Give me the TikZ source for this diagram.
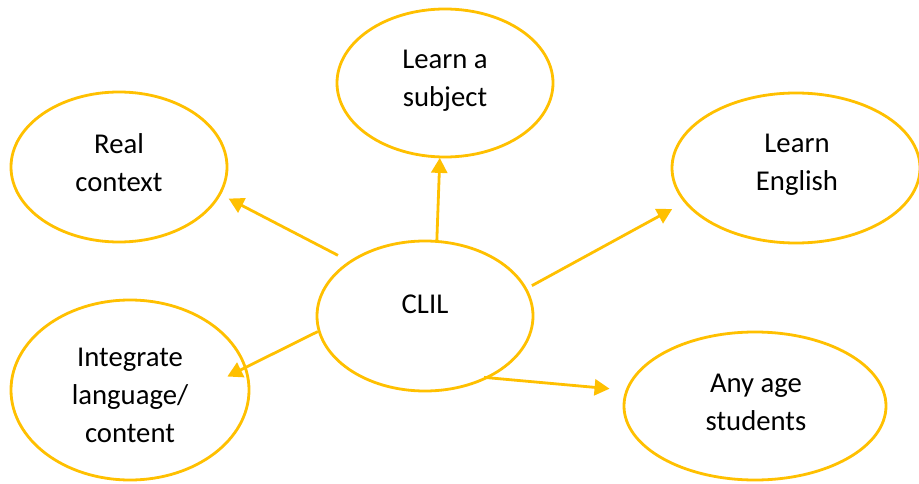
\documentclass[tikz,border=0pt]{standalone}
\usepackage{fontspec}
\setmainfont{Carlito}
\usetikzlibrary{shapes.geometric,arrows.meta}
\definecolor{gold}{HTML}{FFC000}
\begin{document}
\begin{tikzpicture}[x=1pt,y=-1pt,
  bubble/.style={ellipse,draw=gold,line width=2.8pt,inner sep=0pt,outer sep=0pt},
  bubbletext/.style={align=center,font=\fontsize{28.7pt}{38pt}\selectfont,anchor=base,inner sep=0pt},
  link/.style={draw=gold,line width=2.8pt,-{Triangle[length=15pt,width=16pt]}}]
\useasboundingbox (0,0) rectangle (919,484);
\fill[white] (0,0) rectangle (919,484);

% ellipses
\node[bubble,minimum width=216pt,minimum height=150pt] (real) at (119,167) {};
\node[bubble,minimum width=216pt,minimum height=148pt] (subject) at (445,83) {};
\node[bubble,minimum width=248pt,minimum height=150pt] (english) at (796,168) {};
\node[bubble,minimum width=216pt,minimum height=150pt] (clil) at (425,316) {};
\node[bubble,minimum width=238pt,minimum height=180pt] (integrate) at (130,390) {};
\node[bubble,minimum width=262pt,minimum height=148pt] (anyage) at (755,406) {};

% texts (placed by the baseline of their last line)
\node[bubbletext] (real-t) at (119,192) {Real\\context};
\node[bubbletext] (subject-t) at (445,107) {Learn a\\subject};
\node[bubbletext] (english-t) at (797,190) {Learn\\English};
\node[bubbletext] (clil-t) at (425,313) {CLIL};
\node[bubbletext] (integrate-t) at (130,442) {Integrate\\language/\\content};
\node[bubbletext] (anyage-t) at (756,430) {Any age\\students};

% arrows from the centre idea
\draw[link,shorten <=14pt,shorten >=10pt] (clil.144.5) -- (real.-15.9);
\draw[link,shorten <=0pt,shorten >=1pt] (clil.81.7) -- (subject.266.2);
\draw[link,shorten <=7pt,shorten >=15pt] (clil.15.7) -- (english.197.9);
\draw[link,shorten <=1.5pt,shorten >=-20pt] (clil.188.5) -- (integrate.11.3);
\draw[link,shorten <=-2.5pt,shorten >=17.5pt] (clil.-45.5) -- (anyage.173.75);
\end{tikzpicture}
\end{document}
